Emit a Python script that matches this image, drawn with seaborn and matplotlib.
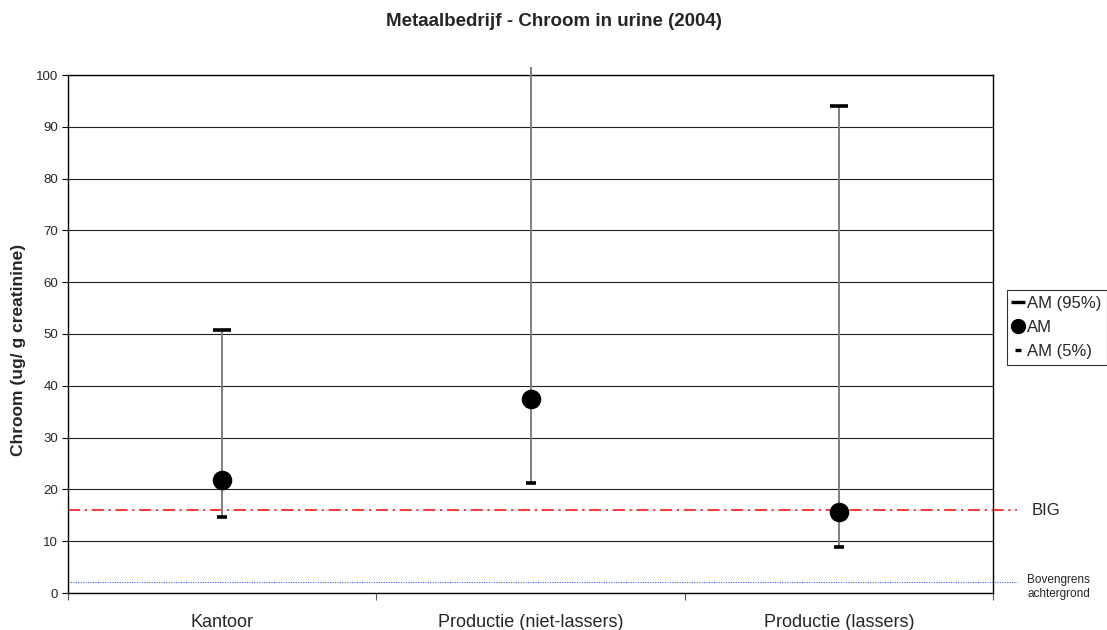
import pandas as pd
import numpy as np
import matplotlib
matplotlib.use('Agg')
import matplotlib.pyplot as plt
from matplotlib.lines import Line2D
from matplotlib.transforms import blended_transform_factory
import seaborn as sns

# data
categories = ['Kantoor', 'Productie (niet-lassers)', 'Productie (lassers)']
am_95 = [50.8, 101.6, 94.1]
am = [21.8, 37.4, 15.6]
am_5 = [14.7, 21.3, 8.9]
big = 16.0
bovengrens = 2.1

df = pd.DataFrame({'Groep': categories, 'AM95': am_95, 'AM': am, 'AM5': am_5})

sns.set_style('white')
plt.rcParams['font.family'] = ['Liberation Sans', 'DejaVu Sans']

fig = plt.figure(figsize=(11.07, 6.3), dpi=100)
ax = fig.add_axes([68/1107, 1-593/630, 925/1107, 518/630])

# high-low lines
ax.vlines(df['Groep'], df['AM5'], df['AM95'], color='#7f7f7f', lw=1.4, zorder=3, clip_on=False)

# markers
sns.scatterplot(data=df, x='Groep', y='AM', ax=ax, color='black', s=170, marker='o',
                edgecolor='black', zorder=5, legend=False)
top = df[df['AM95'] <= 100]
ax.plot(top['Groep'], top['AM95'], ls='none', marker='_', ms=13, mew=2.6, color='black', zorder=4)
ax.plot(df['Groep'], df['AM5'], ls='none', marker='_', ms=6.5, mew=2.6, color='black', zorder=4)

# reference lines
ax.axhline(big, xmin=0, xmax=(1017-68)/925, color='red', lw=1.1, ls=(0, (8, 3, 1.5, 3)),
           clip_on=False, zorder=2)
ax.axhline(bovengrens, xmin=0, xmax=(1017-68)/925, color='#4060ff', lw=0.8, ls=(0, (1, 1.2)),
           clip_on=False, zorder=2)
tr = blended_transform_factory(fig.transFigure, ax.transData)
ax.text(1032/1107, big, 'BIG', transform=tr, fontsize=12, va='center')
fig.text(1027/1107, 1-587/630, 'Bovengrens\nachtergrond', fontsize=8.5, va='center',
         linespacing=1.25)

# axes styling
ax.set_ylim(0, 100)
ax.set_xlim(-0.5, 2.5)
ax.set_yticks(np.arange(0, 101, 10))
ax.yaxis.grid(True, color='#222222', lw=0.8)
ax.set_axisbelow(True)
for s in ax.spines.values():
    s.set_visible(True)
    s.set_color('black')
    s.set_linewidth(1.0)
ax.tick_params(axis='y', which='major', direction='out', length=4, width=0.8, labelsize=9.5,
               pad=3, left=True, color='black')
ax.set_xticks([0, 1, 2])
ax.set_xticklabels(categories)
ax.tick_params(axis='x', which='major', length=0, labelsize=13, pad=15)
ax.set_xticks([-0.5, 0.5, 1.5, 2.5], minor=True)
ax.tick_params(axis='x', which='minor', direction='out', length=5, width=0.8, bottom=True,
               color='#555555')
ax.set_xlabel('')
ax.set_ylabel('Chroom (ug/ g creatinine)', fontsize=12.5, fontweight='bold')
ax.yaxis.set_label_coords(-42/925, (593-350)/518)

fig.text(0.5, 1-21/630, 'Metaalbedrijf - Chroom in urine (2004)', ha='center', va='center',
         fontsize=13.5, fontweight='bold')

handles = [Line2D([], [], ls='none', marker='_', ms=10, mew=2.4, color='black'),
           Line2D([], [], ls='none', marker='o', ms=10, color='black'),
           Line2D([], [], ls='none', marker='_', ms=5, mew=2.4, color='black')]
leg = fig.legend(handles, ['AM (95%)', 'AM', 'AM (5%)'], loc='upper left',
                 bbox_to_anchor=(1007/1107, 1-290/630), frameon=True, fancybox=False,
                 edgecolor='black', fontsize=12, handlelength=0.6, handletextpad=0.25,
                 borderpad=0.35, labelspacing=0.55, borderaxespad=0)
leg.get_frame().set_linewidth(0.8)

fig.savefig('out.png', dpi=100)
